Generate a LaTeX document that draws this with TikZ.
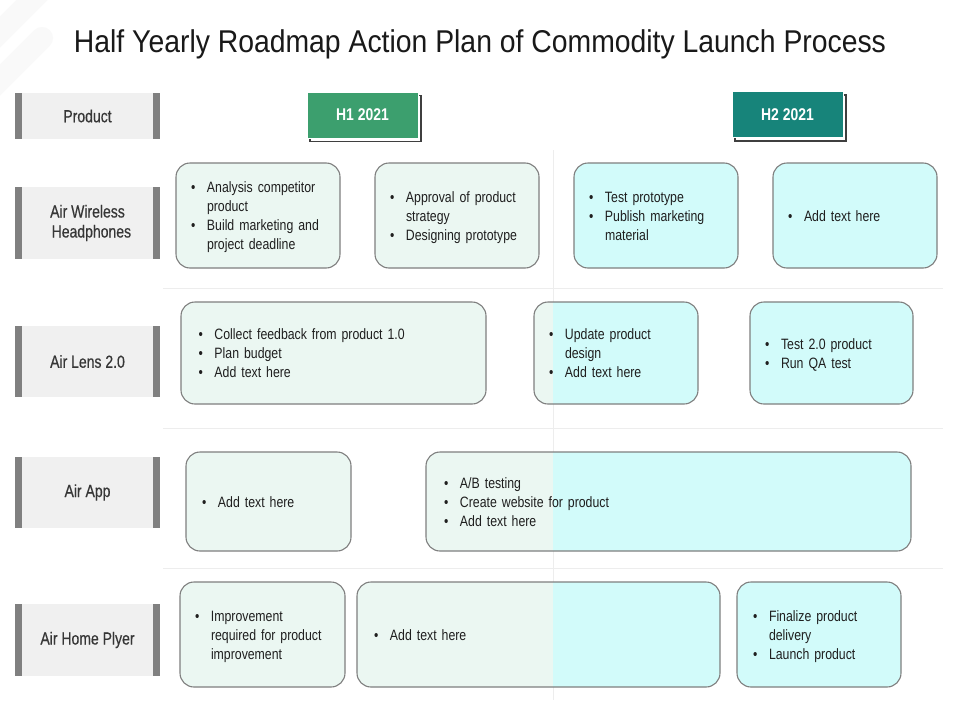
\documentclass[tikz,border=0pt]{standalone}
\usepackage{fontspec}
\setmainfont[FakeStretch=0.82]{Liberation Sans}
\newfontfamily\titlefont[FakeStretch=0.9]{Liberation Sans}
\newfontfamily\labfont[FakeStretch=0.8, FakeBold=0.5]{Liberation Sans}
\usepackage{array}
\usetikzlibrary{shadows}

\definecolor{mint}{HTML}{EBF7F2}
\definecolor{aqua}{HTML}{D2FBFA}
\definecolor{cardline}{HTML}{7F7F7F}
\definecolor{cardtext}{HTML}{1F1F1F}
\definecolor{labgray}{HTML}{F0F0F0}
\definecolor{bargray}{HTML}{808080}
\definecolor{labtext}{HTML}{363636}
\definecolor{hgreen}{HTML}{3C9F6E}
\definecolor{hteal}{HTML}{17847A}
\definecolor{darkline}{HTML}{3F3F3F}
\definecolor{gridgray}{HTML}{EDEDED}

\newcommand{\pts}[1]{\noindent\raisebox{-2pt}[\height][\depth]{\begin{tabular}{@{}p{16pt}@{}l@{}}#1\end{tabular}}}

\begin{document}
\begin{tikzpicture}[x=1pt, y=-1pt,
	rowlab/.style={fill=labgray, minimum width=145pt, inner sep=0pt, align=center, text=labtext, font=\labfont\fontsize{17.5}{20}\selectfont,
		path picture={\fill[bargray] (path picture bounding box.north west) rectangle ([xshift=7pt]path picture bounding box.south west);
			\fill[bargray] (path picture bounding box.north east) rectangle ([xshift=-7pt]path picture bounding box.south east);}},
	half/.style={minimum width=111pt, minimum height=46pt, inner sep=0pt, draw=white, line width=1pt, text=white, font=\fontsize{17}{20}\selectfont\bfseries,
		general shadow={shadow xshift=3pt, shadow yshift=-3.5pt, draw=darkline, line width=1.6pt, fill=white}},
	card/.style={draw=cardline, line width=1.1pt, rounded corners=14pt, inner xsep=15pt, inner ysep=0pt, align=left, text=cardtext, font=\fontsize{15}{19}\selectfont},
	early/.style={card, fill=mint},
	late/.style={card, fill=aqua},
	both/.style={card, fill=aqua, path picture={\fill[mint, sharp corners] (path picture bounding box.north west) rectangle (path picture bounding box.south west -| split);}},
	gridline/.style={gridgray, line width=0.8pt},
	deco/.style={gray!5, line width=22pt, line cap=round}
]
	\useasboundingbox (0,0) rectangle (960,720);
	\fill[white] (0,0) rectangle (960,720);

	% Ecke oben links
	\begin{scope}
		\clip (0,0) rectangle (960,720);
		\draw[deco] (40,-8) -- (-12,44);
		\draw[deco] (42,38) -- (-12,92);
	\end{scope}

	% Raster
	\coordinate (split) at (553,0);
	\draw[gridline] (553,150) -- (553,700);
	\foreach \y in {288,428,568}
		\draw[gridline] (163,\y) -- (943,\y);

	\node[font=\titlefont\fontsize{31.5}{36}\selectfont, text=black!90] (title) at (480,44) {Half Yearly Roadmap Action Plan of Commodity Launch Process};

	% Zeilenkoepfe
	\node[rowlab, minimum height=46pt] (prod) at (87.5,116) {Product};
	\node[rowlab, minimum height=72pt] (wire) at (87.5,223) {Air Wireless\\\ \ Headphones};
	\node[rowlab, minimum height=71pt] (lens) at (87.5,361.5) {Air Lens 2.0};
	\node[rowlab, minimum height=71pt] (app) at (87.5,492.5) {Air App};
	\node[rowlab, minimum height=72pt] (home) at (87.5,640) {Air Home Plyer};

	% Halbjahre
	\node[half, fill=hgreen] (h1) at (362.5,115) {H1 2021};
	\node[half, fill=hteal] (h2) at (787.5,114.5) {H2 2021};

	% Air Wireless Headphones
	\node[early, minimum width=164pt, minimum height=105pt, text width=134pt] (w1) at (258,215.5)
		{\pts{\textbullet & Analysis competitor\\ & product\\ \textbullet & Build marketing and\\ & project deadline}};
	\node[early, minimum width=164pt, minimum height=105pt, text width=134pt] (w2) at (457,215.5)
		{\pts{\textbullet & Approval of product\\ & strategy\\ \textbullet & Designing prototype}};
	\node[late, minimum width=164pt, minimum height=105pt, text width=134pt] (w3) at (656,215.5)
		{\pts{\textbullet & Test prototype\\ \textbullet & Publish marketing\\ & material}};
	\node[late, minimum width=164pt, minimum height=105pt, text width=134pt] (w4) at (855,215.5)
		{\pts{\textbullet & Add text here}};

	% Air Lens 2.0
	\node[early, minimum width=305pt, minimum height=102pt, text width=270pt] (l1) at (333.5,353)
		{\pts{\textbullet & Collect feedback from product 1.0\\ \textbullet & Plan budget\\ \textbullet & Add text here}};
	\node[both, minimum width=164pt, minimum height=102pt, text width=134pt] (l2) at (616,353)
		{\pts{\textbullet & Update product\\ & design\\ \textbullet & Add text here}};
	\node[late, minimum width=163pt, minimum height=102pt, text width=133pt] (l3) at (831.5,353)
		{\pts{\textbullet & Test 2.0 product\\ \textbullet & Run QA test}};

	% Air App
	\node[early, minimum width=165pt, minimum height=99pt, text width=133pt] (a1) at (268.5,501.5)
		{\pts{\textbullet & Add text here}};
	\node[both, minimum width=485pt, minimum height=99pt, text width=449pt] (a2) at (668.5,501.5)
		{\pts{\textbullet & A/B testing\\ \textbullet & Create website for product\\ \textbullet & Add text here}};

	% Air Home Plyer
	\node[early, minimum width=165pt, minimum height=105pt, text width=135pt] (p1) at (262.5,634.5)
		{\pts{\textbullet & Improvement\\ & required for product\\ & improvement}};
	\node[both, minimum width=363pt, minimum height=105pt, text width=329pt] (p2) at (538.5,634.5)
		{\pts{\textbullet & Add text here}};
	\node[late, minimum width=164pt, minimum height=105pt, text width=132pt] (p3) at (819,634.5)
		{\pts{\textbullet & Finalize product\\ & delivery\\ \textbullet & Launch product}};
\end{tikzpicture}
\end{document}
